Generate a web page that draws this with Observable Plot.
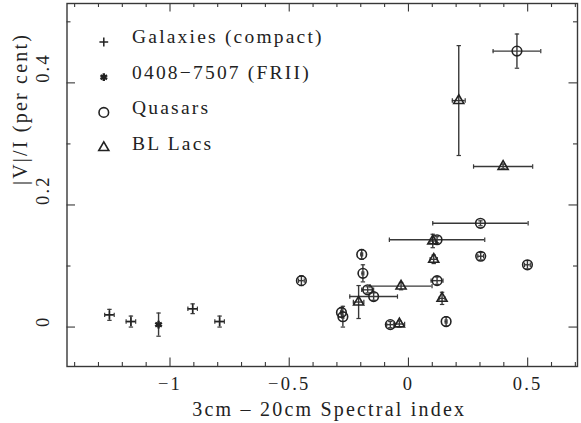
<!DOCTYPE html>
<html><head><meta charset="utf-8">
<script src="https://cdn.jsdelivr.net/npm/d3@7"></script>
<script src="https://cdn.jsdelivr.net/npm/@observablehq/plot@0.6"></script>
<style>
html,body{margin:0;padding:0;background:#fff;}
#chart svg text{font-family:"Liberation Serif",serif;letter-spacing:2.2px;}
</style></head><body><div id="chart"></div>
<script>
// ---- data ----
const galX = [-1.254, -1.164, -0.905, -0.792];
const galY = [0.020, 0.009, 0.030, 0.009];
const galXerr = [0.020, 0.020, 0.020, 0.020];
const galYerr = [0.009, 0.009, 0.008, 0.009];

const friiX = [-1.048];
const friiY = [0.004];
const friiXerr = [0.008];
const friiYerr = [0.019];

const qsoX = [0.455, 0.302, 0.120, -0.196, 0.303, 0.499, -0.191, 0.120, -0.449, -0.171, -0.146, -0.281, -0.275, -0.076, 0.158];
const qsoY = [0.452, 0.170, 0.143, 0.119, 0.116, 0.102, 0.088, 0.076, 0.076, 0.061, 0.050, 0.024, 0.017, 0.004, 0.009];
const qsoXerr = [0.100, 0.200, 0.200, 0.004, 0.012, 0.012, 0.004, 0.025, 0.012, 0.025, 0.100, 0.004, 0.004, 0.015, 0.004];
const qsoYerr = [0.028, 0.004, 0.005, 0.008, 0.006, 0.007, 0.014, 0.006, 0.008, 0.005, 0.006, 0.008, 0.017, 0.005, 0.008];

const blX = [0.211, 0.397, 0.102, 0.106, -0.031, 0.141, -0.209, -0.038];
const blY = [0.371, 0.263, 0.141, 0.111, 0.067, 0.047, 0.041, 0.005];
const blXerr = [0.027, 0.124, 0.012, 0.015, 0.130, 0.012, 0.022, 0.022];
const blYerr = [0.090, 0.004, 0.011, 0.007, 0.006, 0.010, 0.027, 0.005];

const xDomain = [-1.432, 0.709];
const yDomain = [-0.0646, 0.530];
const xMajor = [-1, -0.5, 0, 0.5];
const xMinor = [-1.4, -1.3, -1.2, -1.1, -0.9, -0.8, -0.7, -0.6, -0.4, -0.3, -0.2, -0.1, 0.1, 0.2, 0.3, 0.4, 0.6, 0.7];
const xTickLabels = ["\u22121", "\u22120.5", "0", "0.5"];
const yMajor = [0, 0.2, 0.4];
const yMinor = [0.1, 0.3, 0.5];
const yTickLabels = ["0", "0.2", "0.4"];
const xTitle = "3cm \u2013 20cm Spectral index";
const yTitle = "|V|/I (per cent)";
const legendLabels = ["Galaxies (compact)", "0408\u22127507 (FRII)", "Quasars", "BL Lacs"];

// ---- layout ----
const W = 581, H = 423, mL = 66.5, mR = 4, mT = 3, mB = 57;
const innerW = W - mL - mR, innerH = H - mT - mB;
const ink = "#222", line = "#383838";

const rows = (xs, ys, exs, eys) => xs.map((x, i) => ({x, y: ys[i], ex: exs[i], ey: eys[i]}));
const gal = rows(galX, galY, galXerr, galYerr);
const frii = rows(friiX, friiY, friiXerr, friiYerr);
const qso = rows(qsoX, qsoY, qsoXerr, qsoYerr);
const bl = rows(blX, blY, blXerr, blYerr);
const all = [...gal, ...frii, ...qso, ...bl];

// custom stroke symbols
const hline = {draw(c, s) { const r = Math.sqrt(s / Math.PI); c.moveTo(-r, 0); c.lineTo(r, 0); }};
const vline = {draw(c, s) { const r = Math.sqrt(s / Math.PI); c.moveTo(0, -r); c.lineTo(0, r); }};
const plus = {draw(c, s) { const r = Math.sqrt(s / Math.PI); c.moveTo(-r, 0); c.lineTo(r, 0); c.moveTo(0, -r); c.lineTo(0, r); }};

const errMarks = (data) => [
  Plot.ruleX(data, {x: "x", y1: d => d.y - d.ey, y2: d => d.y + d.ey, stroke: line, strokeWidth: 1.4}),
  Plot.ruleY(data, {y: "y", x1: d => d.x - d.ex, x2: d => d.x + d.ex, stroke: line, strokeWidth: 1.4}),
  Plot.dot(data, {x: "x", y: d => d.y + d.ey, symbol: hline, r: 2.2, stroke: line, strokeWidth: 1.2}),
  Plot.dot(data, {x: "x", y: d => d.y - d.ey, symbol: hline, r: 2.2, stroke: line, strokeWidth: 1.2}),
  Plot.dot(data, {x: d => d.x + d.ex, y: "y", symbol: vline, r: 2.2, stroke: line, strokeWidth: 1.2}),
  Plot.dot(data, {x: d => d.x - d.ex, y: "y", symbol: vline, r: 2.2, stroke: line, strokeWidth: 1.2})
];

const styles = [
  {symbol: plus, r: 4.4, strokeWidth: 1.5},
  {symbol: d3.symbolAsterisk, r: 3.6, strokeWidth: 2.4},
  {symbol: "circle", r: 4.8, strokeWidth: 1.6},
  {symbol: d3.symbolTriangle2, r: 4.8, strokeWidth: 1.6}
];

const legendMarks = legendLabels.flatMap((lab, i) => [
  Plot.dot([lab], {frameAnchor: "top-left", dx: 36.8, dy: 38.5 + 35.2 * i, fill: "none", stroke: ink, ...styles[i]}),
  Plot.text([lab], {frameAnchor: "top-left", dx: 65, dy: 33 + 35.8 * i, text: d => d, textAnchor: "start", lineAnchor: "middle", fill: ink, fontSize: 19.5})
]);

const chart = Plot.plot({
  width: W, height: H,
  marginLeft: mL, marginRight: mR, marginTop: mT, marginBottom: mB,
  x: {domain: xDomain, axis: null},
  y: {domain: yDomain, axis: null},
  marks: [
    Plot.frame({stroke: line, strokeWidth: 1.4}),
    // ticks (inward, all four sides)
    Plot.tickX(xMinor, {x: d => d, insetTop: innerH - 4, stroke: line, strokeWidth: 1.1}),
    Plot.tickX(xMajor, {x: d => d, insetTop: innerH - 8.5, stroke: line, strokeWidth: 1.1}),
    Plot.tickX(xMinor, {x: d => d, insetBottom: innerH - 4, stroke: line, strokeWidth: 1.1}),
    Plot.tickX(xMajor, {x: d => d, insetBottom: innerH - 8.5, stroke: line, strokeWidth: 1.1}),
    Plot.tickY(yMinor, {y: d => d, insetRight: innerW - 4, stroke: line, strokeWidth: 1.1}),
    Plot.tickY(yMajor, {y: d => d, insetRight: innerW - 8.5, stroke: line, strokeWidth: 1.1}),
    Plot.tickY(yMinor, {y: d => d, insetLeft: innerW - 4, stroke: line, strokeWidth: 1.1}),
    Plot.tickY(yMajor, {y: d => d, insetLeft: innerW - 8.5, stroke: line, strokeWidth: 1.1}),
    // tick labels and titles
    Plot.text(xMajor, {x: d => d, text: (d, i) => xTickLabels[i], frameAnchor: "bottom", dy: 18, lineAnchor: "middle", fill: ink, fontSize: 18.5}),
    Plot.text(yMajor, {y: d => d, text: (d, i) => yTickLabels[i], frameAnchor: "left", dx: -24, rotate: -90, lineAnchor: "middle", fill: ink, fontSize: 18.5}),
    Plot.text([xTitle], {frameAnchor: "bottom", dy: 43, dx: 7, text: d => d, lineAnchor: "middle", fill: ink, fontSize: 20}),
    Plot.text([yTitle], {frameAnchor: "left", dx: -46, text: d => d, rotate: -90, lineAnchor: "middle", fill: ink, fontSize: 20}),
    // error bars
    ...errMarks(all),
    // markers
    Plot.dot(gal, {x: "x", y: "y", fill: "none", stroke: ink, ...styles[0]}),
    Plot.dot(frii, {x: "x", y: "y", fill: "none", stroke: ink, ...styles[1]}),
    Plot.dot(qso, {x: "x", y: "y", fill: "none", stroke: ink, ...styles[2]}),
    Plot.dot(bl, {x: "x", y: "y", fill: "none", stroke: ink, ...styles[3]}),
    ...legendMarks
  ]
});
document.getElementById("chart").append(chart);
</script>
</body></html>
